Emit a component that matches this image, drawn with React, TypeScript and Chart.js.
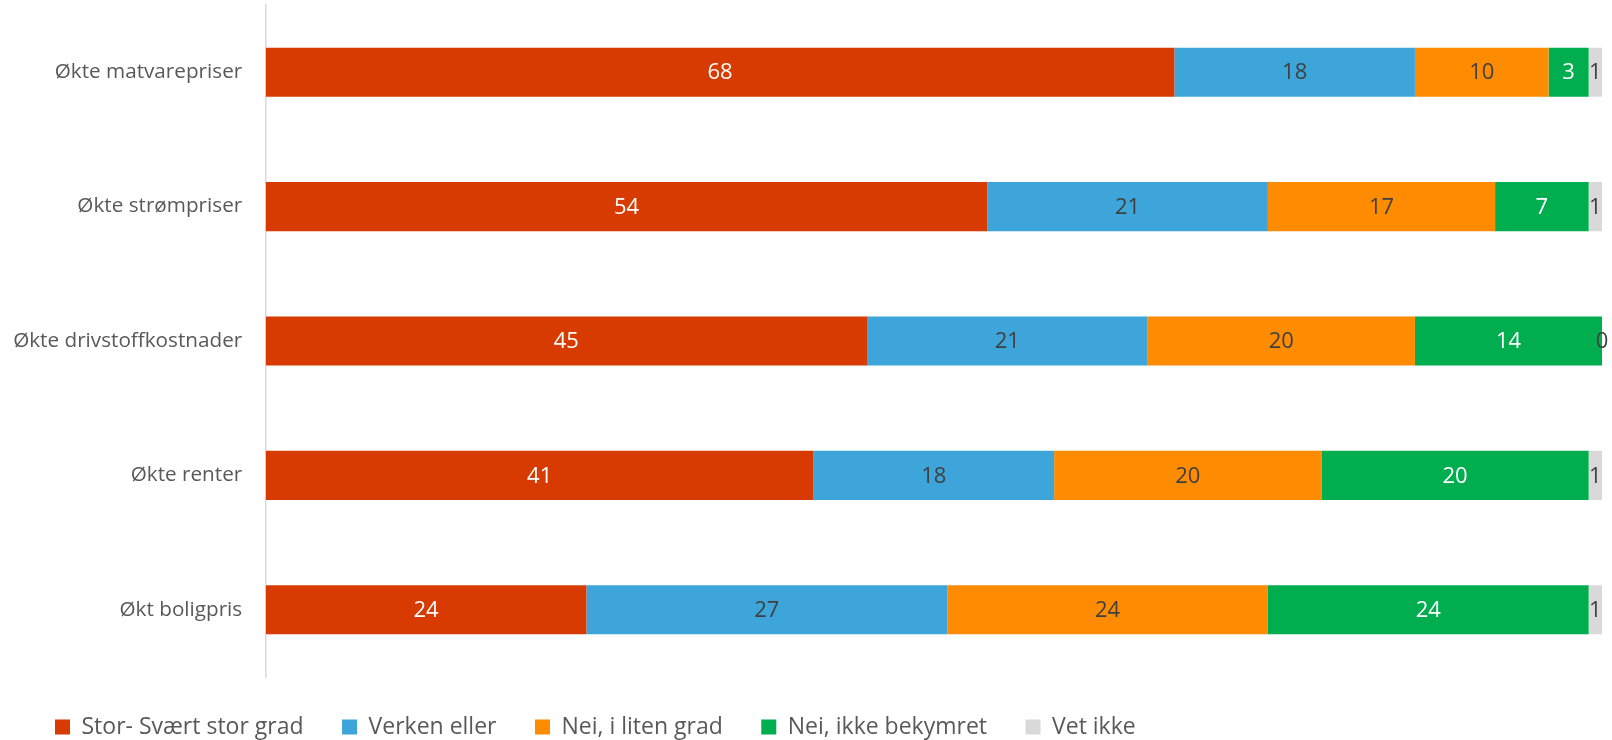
import React, { useEffect, useRef } from "react";
import { Chart, registerables } from "chart.js";

Chart.register(...registerables);

const categories = [
  "Økte matvarepriser",
  "Økte strømpriser",
  "Økte drivstoffkostnader",
  "Økte renter",
  "Økt boligpris",
];
const seriesNames = [
  "Stor- Svært stor grad",
  "Verken eller",
  "Nei, i liten grad",
  "Nei, ikke bekymret",
  "Vet ikke",
];
const storGrad = [68, 54, 45, 41, 24];
const verkenEller = [18, 21, 21, 18, 27];
const litenGrad = [10, 17, 20, 20, 24];
const ikkeBekymret = [3, 7, 14, 20, 24];
const vetIkke = [1, 1, 0, 1, 1];

const seriesValues = [storGrad, verkenEller, litenGrad, ikkeBekymret, vetIkke];
const colors = ["#D83B01", "#3DA5D9", "#FF8C00", "#00AE50", "#D9D9D9"];
const labelColors = ["#FFFFFF", "#404040", "#404040", "#FFFFFF", "#404040"];

const FONT = "'Open Sans', 'Noto Sans', sans-serif";

const valueLabels = {
  id: "valueLabels",
  afterDatasetsDraw(chart: any) {
    const ctx = chart.ctx;
    ctx.save();
    ctx.font = `22px ${FONT}`;
    ctx.textAlign = "center";
    ctx.textBaseline = "middle";
    chart.data.datasets.forEach((ds: any, i: number) => {
      const meta = chart.getDatasetMeta(i);
      meta.data.forEach((el: any, j: number) => {
        const { x, y, base } = el.getProps(["x", "y", "base"], true);
        ctx.fillStyle = labelColors[i];
        ctx.fillText(String(ds.data[j]), (x + base) / 2, y + 1);
      });
    });
    ctx.restore();
  },
};

export default function App() {
  const canvasRef = useRef<HTMLCanvasElement | null>(null);

  useEffect(() => {
    if (!canvasRef.current) return;
    const chart = new Chart(canvasRef.current, {
      type: "bar",
      data: {
        labels: categories,
        datasets: seriesNames.map((name, i) => ({
          label: name,
          data: seriesValues[i],
          backgroundColor: colors[i],
          borderWidth: 0,
          categoryPercentage: 1,
          barPercentage: 0.365,
        })),
      },
      options: {
        indexAxis: "y",
        animation: false,
        responsive: true,
        maintainAspectRatio: false,
        layout: {
          padding: { left: 16.5, right: 10, top: 5, bottom: -8.5 },
        },
        scales: {
          x: {
            stacked: true,
            min: 0,
            max: 100,
            display: false,
          },
          y: {
            stacked: true,
            grid: { display: false, drawTicks: false },
            border: { display: true, color: "#D9D9D9", width: 1.5 },
            ticks: {
              padding: 23.5,
              color: "#595959",
              font: { family: FONT, size: 20.7 },
            },
            afterFit: (scale: any) => {
              scale.width = 249.2;
              scale.paddingTop = 0;
              scale.paddingBottom = 0;
              scale._computeLabelArea = () => undefined;
            },
          },
        },
        plugins: {
          legend: {
            position: "bottom",
            align: "start",
            labels: {
              boxWidth: 15,
              boxHeight: 15,
              padding: 38.5,
              color: "#595959",
              font: { family: FONT, size: 23 },
            },
          },
          tooltip: { enabled: false },
        },
      },
      plugins: [valueLabels],
    });
    return () => chart.destroy();
  }, []);

  return (
    <div
      style={{
        position: "absolute",
        left: 0,
        top: 0,
        width: "1612px",
        height: "740px",
        background: "#FFFFFF",
      }}
    >
      <canvas ref={canvasRef} />
    </div>
  );
}
